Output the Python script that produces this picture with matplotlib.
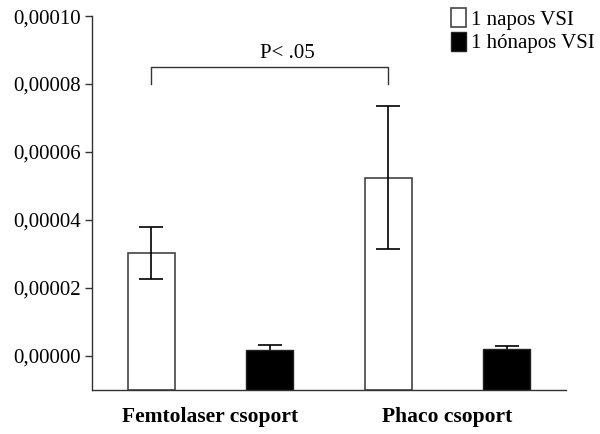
import matplotlib
matplotlib.use('Agg')
import matplotlib.pyplot as plt
from matplotlib.ticker import FuncFormatter
import numpy as np

groups = ['Femtolaser csoport', 'Phaco csoport']
series = ['1 napos VSI', '1 hónapos VSI']
day_mean = [0.0000303, 0.0000525]
day_err = [0.0000076, 0.0000210]
month_mean = [0.0000019, 0.0000020]
month_err = [0.0000013, 0.0000009]
yticks = [0.0, 0.00002, 0.00004, 0.00006, 0.00008, 0.0001]
p_text = 'P< .05'

plt.rcParams['font.family'] = ['Liberation Serif', 'DejaVu Serif']

fig = plt.figure(figsize=(6.0, 4.34), dpi=100)
ax = fig.add_axes([0.1533, 0.1014, 0.79, 0.8616])

ymin, ymax = -0.00001, 0.0001
x = np.arange(len(groups))
off = 0.25
w = 0.2
ekw = dict(ecolor='black', elinewidth=1.2, capsize=8.5, capthick=1.2)

# bars are drawn up from the bottom of the axis
ax.bar(x - off, np.array(day_mean) - ymin, w, bottom=ymin, color='white',
       edgecolor='#444444', linewidth=1.2, label=series[0], zorder=2)
ax.errorbar(x - off, day_mean, yerr=day_err, fmt='none', zorder=3, **ekw)
ax.bar(x + off, np.array(month_mean) - ymin, w, bottom=ymin, color='black',
       edgecolor='#222222', linewidth=1.0, label=series[1], zorder=2)
ax.errorbar(x + off, month_mean, yerr=month_err, fmt='none', zorder=1, **ekw)

# significance bracket between the two white bars
yb0, yb1 = 0.00008, 0.000085
ax.plot([x[0] - off, x[0] - off, x[1] - off, x[1] - off], [yb0, yb1, yb1, yb0],
        color='#333333', linewidth=1.0)
ax.text(0.325, 0.0000862, p_text, ha='center', va='bottom', fontsize=15)

ax.set_xlim(-0.5, 1.5)
ax.set_ylim(ymin, ymax)
ax.set_yticks(yticks)
ax.yaxis.set_major_formatter(FuncFormatter(lambda v, p: ('%.5f' % v).replace('.', ',')))
ax.set_xticks(x)
ax.set_xticklabels(groups, fontsize=15.5, fontweight='bold')
ax.tick_params(axis='x', length=0, pad=12)
ax.tick_params(axis='y', length=5, width=1.0, labelsize=15, pad=3, color='#333333')

for s in ['top', 'right']:
    ax.spines[s].set_visible(False)
for s in ['left', 'bottom']:
    ax.spines[s].set_color('#333333')
    ax.spines[s].set_linewidth(1.0)

lgd = ax.legend(loc='upper right', bbox_to_anchor=(1.015, 1.015), bbox_transform=fig.transFigure,
                frameon=False, fontsize=15, handlelength=0.75, handleheight=1.0,
                handletextpad=0.2, labelspacing=0.12, borderpad=0.2)

plt.savefig('out.png', dpi=100)
